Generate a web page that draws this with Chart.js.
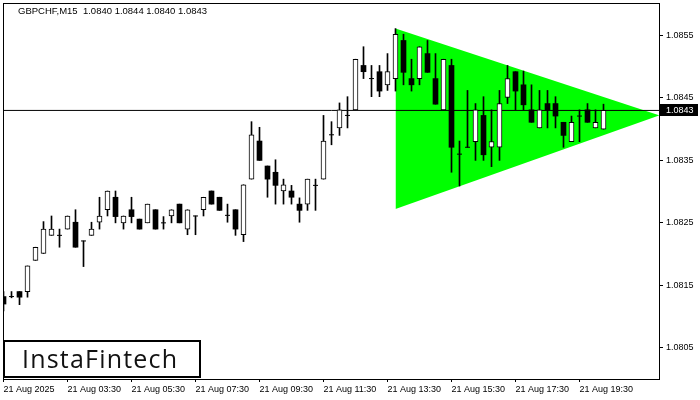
<!DOCTYPE html>
<html>
<head>
<meta charset="utf-8">
<script src="https://cdn.jsdelivr.net/npm/chart.js@4.4.0/dist/chart.umd.min.js"></script>
<style>
  html, body { margin: 0; padding: 0; background: #fff; }
</style>
</head>
<body>
<canvas id="chart" width="700" height="400"></canvas>
<script>
// --- data ---
const symbol = "GBPCHF,M15";
const xLabels = ["21 Aug 2025", "21 Aug 03:30", "21 Aug 05:30", "21 Aug 07:30", "21 Aug 09:30",
                 "21 Aug 11:30", "21 Aug 13:30", "21 Aug 15:30", "21 Aug 17:30", "21 Aug 19:30"];
const xTickIdx = [0, 8, 16, 24, 32, 40, 48, 56, 64, 72];
const yTicks = [1.0805, 1.0815, 1.0825, 1.0835, 1.0845, 1.0855];

const opens = [
  1.08132, 1.08132, 1.08140, 1.08140, 1.08190, 1.08201, 1.08230, 1.08230, 1.08240, 1.08251,
  1.08221, 1.08230, 1.08251, 1.08271, 1.08291, 1.08250, 1.08271, 1.08256, 1.08250, 1.08271,
  1.08250, 1.08261, 1.08280, 1.08240, 1.08261, 1.08271, 1.08301, 1.08291, 1.08262, 1.08271,
  1.08231, 1.08320, 1.08381, 1.08341, 1.08331, 1.08301, 1.08301, 1.08280, 1.08280, 1.08310,
  1.08320, 1.08391, 1.08402, 1.08422, 1.08431, 1.08502, 1.08481, 1.08492, 1.08471, 1.08481,
  1.08542, 1.08481, 1.08481, 1.08521, 1.08481, 1.08431, 1.08502, 1.08360, 1.08371, 1.08380,
  1.08422, 1.08371, 1.08371, 1.08451, 1.08492, 1.08471, 1.08431, 1.08402, 1.08441, 1.08441,
  1.08411, 1.08380, 1.08421, 1.08431, 1.08402, 1.08400
];
const highs = [
  1.08140, 1.08140, 1.08140, 1.08181, 1.08211, 1.08252, 1.08261, 1.08240, 1.08261, 1.08271,
  1.08221, 1.08251, 1.08291, 1.08301, 1.08301, 1.08261, 1.08291, 1.08256, 1.08280, 1.08271,
  1.08260, 1.08271, 1.08280, 1.08271, 1.08261, 1.08291, 1.08301, 1.08291, 1.08280, 1.08271,
  1.08311, 1.08412, 1.08403, 1.08341, 1.08351, 1.08320, 1.08310, 1.08290, 1.08320, 1.08320,
  1.08422, 1.08412, 1.08442, 1.08452, 1.08512, 1.08532, 1.08502, 1.08502, 1.08521, 1.08561,
  1.08552, 1.08512, 1.08532, 1.08542, 1.08521, 1.08512, 1.08512, 1.08381, 1.08462, 1.08441,
  1.08452, 1.08431, 1.08462, 1.08502, 1.08492, 1.08493, 1.08471, 1.08462, 1.08462, 1.08452,
  1.08411, 1.08421, 1.08431, 1.08441, 1.08431, 1.08440
];
const lows = [
  1.08109, 1.08130, 1.08119, 1.08131, 1.08190, 1.08201, 1.08230, 1.08211, 1.08240, 1.08211,
  1.08180, 1.08230, 1.08240, 1.08261, 1.08250, 1.08240, 1.08250, 1.08240, 1.08250, 1.08240,
  1.08240, 1.08250, 1.08250, 1.08231, 1.08231, 1.08261, 1.08280, 1.08270, 1.08251, 1.08230,
  1.08220, 1.08320, 1.08350, 1.08291, 1.08280, 1.08280, 1.08280, 1.08251, 1.08270, 1.08270,
  1.08320, 1.08375, 1.08390, 1.08402, 1.08431, 1.08481, 1.08452, 1.08452, 1.08462, 1.08461,
  1.08471, 1.08461, 1.08471, 1.08491, 1.08440, 1.08431, 1.08331, 1.08309, 1.08371, 1.08350,
  1.08350, 1.08340, 1.08350, 1.08441, 1.08431, 1.08431, 1.08411, 1.08402, 1.08402, 1.08402,
  1.08371, 1.08380, 1.08380, 1.08411, 1.08402, 1.08400
];
const closes = [
  1.08120, 1.08132, 1.08131, 1.08181, 1.08211, 1.08240, 1.08240, 1.08230, 1.08261, 1.08211,
  1.08221, 1.08240, 1.08261, 1.08301, 1.08260, 1.08261, 1.08260, 1.08240, 1.08280, 1.08240,
  1.08250, 1.08271, 1.08250, 1.08271, 1.08261, 1.08291, 1.08280, 1.08270, 1.08262, 1.08240,
  1.08311, 1.08391, 1.08350, 1.08320, 1.08310, 1.08311, 1.08291, 1.08270, 1.08320, 1.08310,
  1.08381, 1.08391, 1.08431, 1.08422, 1.08512, 1.08492, 1.08481, 1.08461, 1.08492, 1.08552,
  1.08491, 1.08471, 1.08532, 1.08491, 1.08440, 1.08512, 1.08371, 1.08360, 1.08371, 1.08431,
  1.08359, 1.08380, 1.08441, 1.08481, 1.08461, 1.08439, 1.08411, 1.08431, 1.08431, 1.08421,
  1.08390, 1.08411, 1.08421, 1.08411, 1.08411, 1.08430
];

// symmetric triangle pattern (bar index, price)
const triX = [49, 82];
const triTop = [1.08561, 1.08422];
const triBottom = [1.08272, 1.08422];
const lastPrice = 1.0843;

// --- build datasets ---
const idx = opens.map((_, i) => i);
const wicks = idx.map(i => ({ x: i, y: [lows[i], highs[i]] }));
const bulls = idx.filter(i => closes[i] > opens[i]).map(i => ({ x: i, y: [opens[i], closes[i]] }));
const bears = idx.filter(i => closes[i] < opens[i]).map(i => ({ x: i, y: [closes[i], opens[i]] }));
const dojis = idx.filter(i => closes[i] === opens[i]).map(i => ({ x: i, y: opens[i] }));
const last = opens.length - 1;
const header = symbol + "  " + [opens[last], highs[last], lows[last], closes[last]].map(v => v.toFixed(4)).join(" ");

const axisFont = { family: "'Liberation Sans', Arial, sans-serif", size: 9 };

// drop the label overhang padding so the plot box sits where MT4 puts it
function noPad(s) {
  s.paddingLeft = 0; s.paddingRight = 0; s.paddingTop = 0; s.paddingBottom = 0;
}

// frame, price tag, header and logo
const decor = {
  id: "decor",
  afterDraw(chart) {
    const { ctx, chartArea: a, scales } = chart;
    ctx.save();
    ctx.strokeStyle = "#000";
    ctx.lineWidth = 1;
    ctx.strokeRect(a.left + 0.5, a.top + 0.5, a.right - a.left, a.bottom - a.top);

    // current price box on the axis
    const py = Math.round(scales.y.getPixelForValue(lastPrice));
    ctx.fillStyle = "#000";
    ctx.fillRect(a.right + 1, py - 6, 38, 12);
    ctx.fillStyle = "#fff";
    ctx.font = "9px 'Liberation Sans', Arial, sans-serif";
    ctx.textBaseline = "middle";
    ctx.fillText(lastPrice.toFixed(4), a.right + 7, py + 0.5);

    // header text
    ctx.fillStyle = "#000";
    ctx.textBaseline = "alphabetic";
    ctx.font = "9.5px 'Liberation Sans', Arial, sans-serif";
    ctx.fillText(header, 18, 14);

    // logo
    ctx.fillStyle = "#fff";
    ctx.fillRect(3, 340, 198, 38);
    ctx.lineWidth = 2;
    ctx.strokeRect(4, 341, 196, 36);
    ctx.fillStyle = "#111";
    ctx.font = "25px 'Open Sans', sans-serif";
    ctx.letterSpacing = "1.2px";
    ctx.fillText("InstaFintech", 22, 368);
    ctx.restore();
  }
};

new Chart(document.getElementById("chart"), {
  type: "bar",
  data: {
    datasets: [
      {
        type: "line", data: dojis, showLine: false, order: 0,
        pointStyle: "line", pointRadius: 2.5, pointHoverRadius: 2.5, pointBorderWidth: 1,
        pointBorderColor: "#000", pointBackgroundColor: "#000"
      },
      {
        data: bulls, order: 1, grouped: false, barThickness: 5, maxBarThickness: 5,
        backgroundColor: "#fff", borderColor: "#000", borderWidth: 1, borderSkipped: false
      },
      {
        data: bears, order: 1, grouped: false, barThickness: 5, maxBarThickness: 5,
        backgroundColor: "#000", borderColor: "#000", borderWidth: 0
      },
      {
        data: wicks, order: 2, grouped: false, barThickness: 1, maxBarThickness: 1,
        backgroundColor: "#000", borderWidth: 0
      },
      {
        type: "line", order: 3, data: [{ x: 0, y: lastPrice }, { x: 82, y: lastPrice }],
        borderColor: "#000", borderWidth: 1, pointRadius: 0
      },
      {
        type: "line", order: 5, data: triX.map((x, i) => ({ x, y: triTop[i] })),
        borderWidth: 0, pointRadius: 0, fill: false, backgroundColor: "#00ff00"
      },
      {
        type: "line", order: 4, data: triX.map((x, i) => ({ x, y: triBottom[i] })),
        borderWidth: 0, pointRadius: 0, fill: "-1", backgroundColor: "#00ff00"
      }
    ]
  },
  options: {
    responsive: false,
    animation: false,
    layout: { autoPadding: false, padding: { left: 3, top: 3, right: 0, bottom: 0 } },
    plugins: { legend: { display: false }, tooltip: { enabled: false }, title: { display: false } },
    scales: {
      x: {
        type: "linear", min: -0.0625, max: 81.9375, offset: false,
        afterBuildTicks: s => { s.ticks = xTickIdx.map(v => ({ value: v })); },
        afterFit: s => { s.height = 21; noPad(s); },
        ticks: {
          autoSkip: false, maxRotation: 0, align: "start", padding: 2, color: "#000", font: axisFont,
          callback: v => xLabels[xTickIdx.indexOf(v)]
        },
        grid: { drawOnChartArea: false, drawTicks: true, tickLength: 3, color: "#000", offset: false },
        border: { display: false }
      },
      y: {
        position: "right", min: 1.0800, max: 1.08602,
        afterBuildTicks: s => { s.ticks = yTicks.map(v => ({ value: v })); },
        afterFit: s => { s.width = 41; noPad(s); },
        ticks: { padding: 3, color: "#000", font: axisFont, callback: v => v.toFixed(4) },
        grid: { drawOnChartArea: false, tickLength: 4, color: "#000" },
        border: { display: false }
      }
    }
  },
  plugins: [decor]
});
</script>
</body>
</html>
